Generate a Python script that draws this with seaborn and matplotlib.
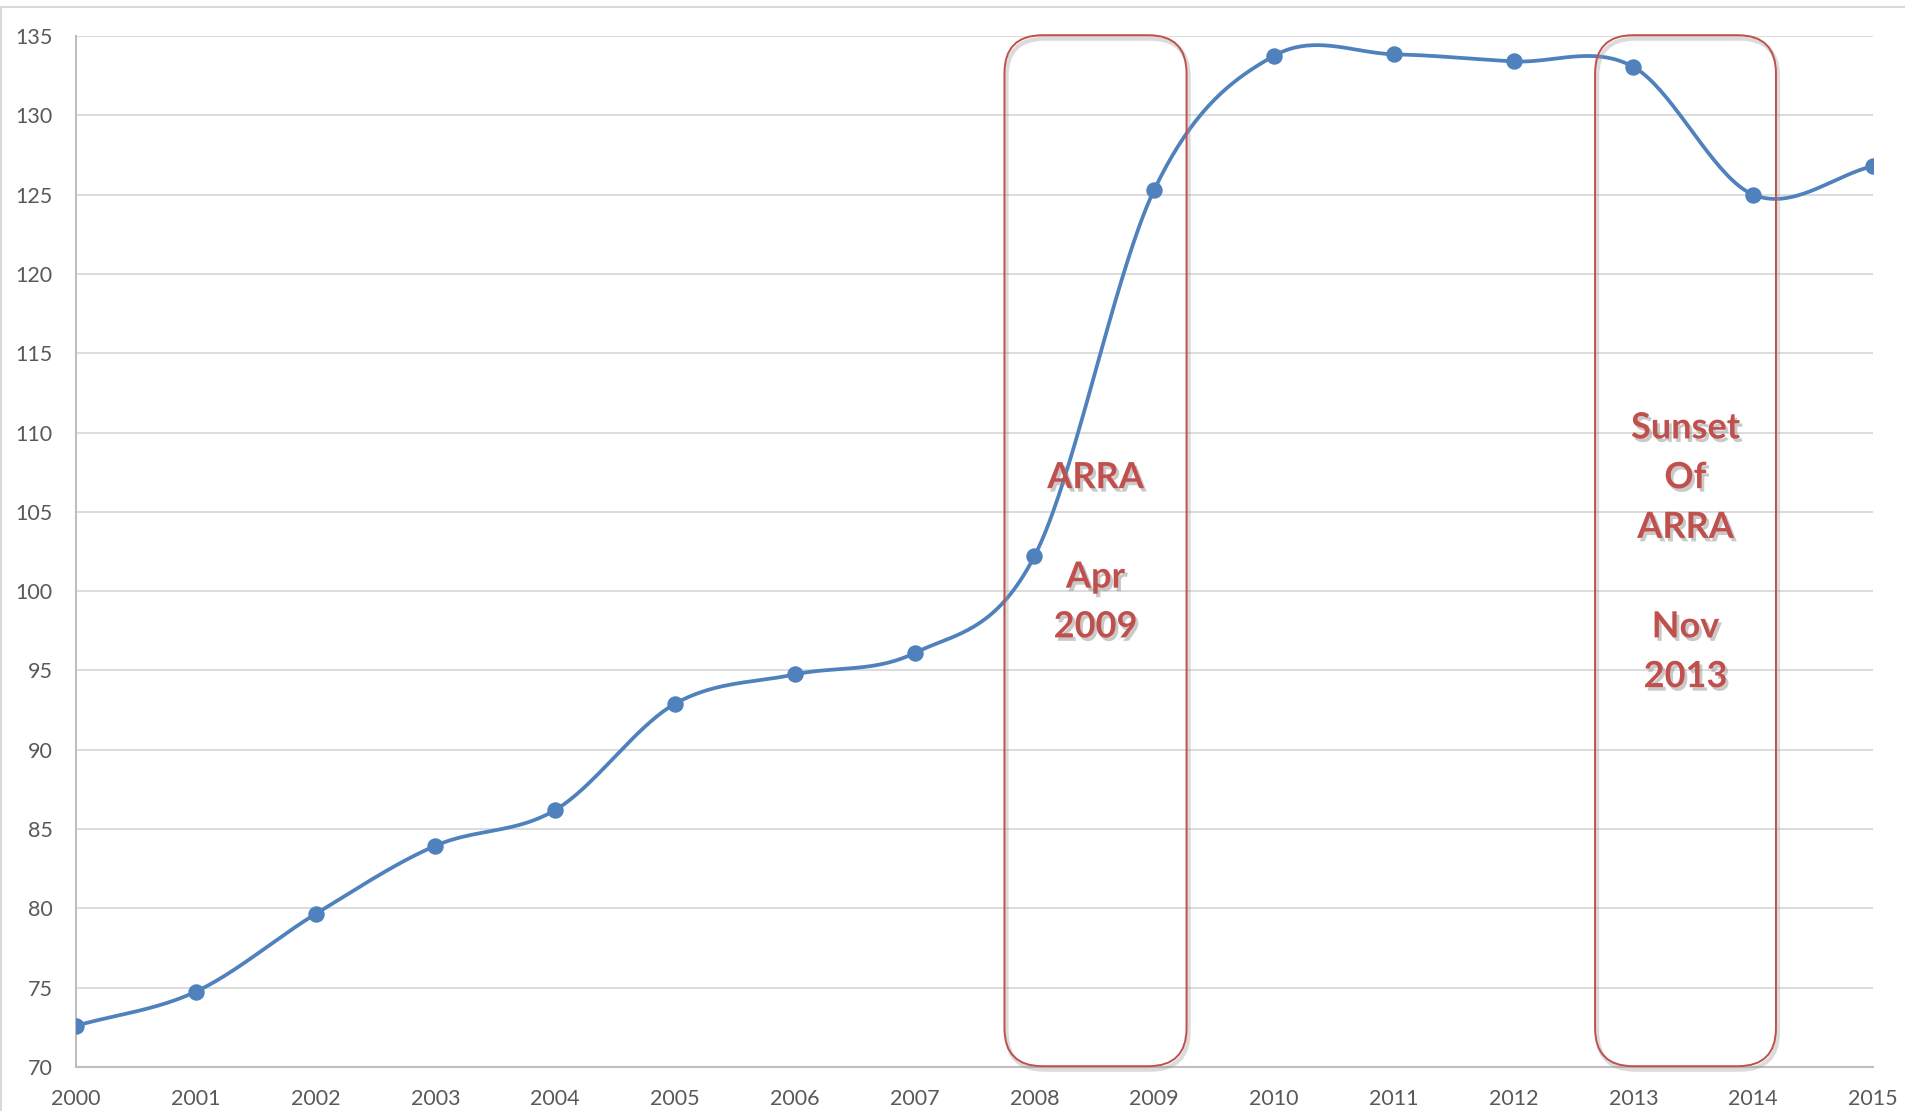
import matplotlib

matplotlib.use("Agg")

import matplotlib.patheffects as pe
import matplotlib.pyplot as plt
import numpy as np
import pandas as pd
import seaborn as sns
from matplotlib.patches import FancyBboxPatch

YEARS = [2000, 2001, 2002, 2003, 2004, 2005, 2006, 2007,
         2008, 2009, 2010, 2011, 2012, 2013, 2014, 2015]
VALUES = [72.6, 74.75, 79.65, 83.95, 86.2, 92.9, 94.75, 96.1,
          102.2, 125.3, 133.75, 133.85, 133.4, 133.05, 125.0, 126.8]

Y_TICKS = list(range(70, 136, 5))

# annotation boxes: (x0, x1) and their labels
BOX_SPANS = [(2007.75, 2009.27), (2012.68, 2014.19)]
BOX_TEXTS = ["ARRA\n\nApr\n2009", "Sunset\nOf\nARRA\n\nNov\n2013"]
BOX_TEXT_Y = [102.45, 102.45]

LINE_COLOR = "#4F81BD"
RED = "#C0504D"


def catmull_rom(x, y, n=40):
    # smoothed line like a spreadsheet "smoothed line" series
    x = np.asarray(x, float)
    y = np.asarray(y, float)
    px = np.concatenate([[2 * x[0] - x[1]], x, [2 * x[-1] - x[-2]]])
    py = np.concatenate([[2 * y[0] - y[1]], y, [2 * y[-1] - y[-2]]])
    xs, ys = [], []
    t = np.linspace(0, 1, n, endpoint=False)
    for i in range(1, len(px) - 2):
        for p, out in ((px, xs), (py, ys)):
            p0, p1, p2, p3 = p[i - 1], p[i], p[i + 1], p[i + 2]
            out.extend(0.5 * ((2 * p1) + (-p0 + p2) * t
                              + (2 * p0 - 5 * p1 + 4 * p2 - p3) * t ** 2
                              + (-p0 + 3 * p1 - 3 * p2 + p3) * t ** 3))
    xs.append(x[-1])
    ys.append(y[-1])
    return np.array(xs), np.array(ys)


def main() -> None:
    sns.set_theme(style="white")
    plt.rcParams["font.family"] = ["Lato", "DejaVu Sans"]

    fig = plt.figure(figsize=(19.05, 11.11), dpi=100)
    ax = fig.add_axes([0.0399, 0.0396, 0.9433, 0.928])

    df = pd.DataFrame({"year": YEARS, "value": VALUES})
    sx, sy = catmull_rom(YEARS, VALUES)
    smooth = pd.DataFrame({"year": sx, "value": sy})

    sns.lineplot(data=smooth, x="year", y="value", color=LINE_COLOR,
                 linewidth=2.7, sort=False, estimator=None, ax=ax, zorder=3)
    sns.scatterplot(data=df, x="year", y="value", color=LINE_COLOR,
                    s=140, edgecolor=LINE_COLOR, linewidth=0, ax=ax, zorder=4)

    ax.set_xlim(2000, 2015)
    ax.set_ylim(70, 135)
    ax.set_xticks(YEARS)
    ax.set_yticks(Y_TICKS)
    ax.set_xlabel("")
    ax.set_ylabel("")
    ax.tick_params(axis="both", length=0, labelsize=15.5, colors="#595959")
    ax.tick_params(axis="x", pad=16)
    ax.tick_params(axis="y", pad=17)
    ax.grid(axis="y", color="#D9D9D9", linewidth=1.3)
    ax.set_axisbelow(True)
    for side in ("top", "right"):
        ax.spines[side].set_visible(False)
    for side in ("left", "bottom"):
        ax.spines[side].set_color("#BFBFBF")
        ax.spines[side].set_linewidth(1.5)
    for lbl in ax.get_xticklabels() + ax.get_yticklabels():
        lbl.set_clip_on(False)

    # rounded annotation boxes
    x_per_px = 15 / (0.9433 * 1905)
    y_per_px = 65 / (0.928 * 1111)
    aspect = y_per_px / x_per_px
    box_shadow = [pe.SimpleLineShadow(offset=(1.5, -2.5), shadow_color="#999999",
                                      alpha=0.35, linewidth=3),
                  pe.Normal()]
    text_shadow = [pe.SimplePatchShadow(offset=(2, -2.5), shadow_rgbFace="#888888", alpha=0.45),
                   pe.Normal()]
    for (x0, x1), text, ty in zip(BOX_SPANS, BOX_TEXTS, BOX_TEXT_Y):
        box = FancyBboxPatch((x0, 70.05), x1 - x0, 65.0,
                             boxstyle=f"round,pad=0,rounding_size={38 * x_per_px}",
                             mutation_aspect=aspect, facecolor="none",
                             edgecolor=RED, linewidth=1.4, zorder=5, clip_on=False)
        box.set_path_effects(box_shadow)
        ax.add_patch(box)
        ax.text((x0 + x1) / 2, ty, text, ha="center", va="center",
                color=RED, fontsize=26, fontweight="bold", linespacing=1.62,
                zorder=6, path_effects=text_shadow)

    # chart-area border
    fig.patches.append(plt.Rectangle((0.0005, -0.01), 1.2, 1.004, transform=fig.transFigure,
                                     fill=False, edgecolor="#D9D9D9", linewidth=1.5))

    fig.savefig("out.png", dpi=100, facecolor="white")


if __name__ == "__main__":
    main()
